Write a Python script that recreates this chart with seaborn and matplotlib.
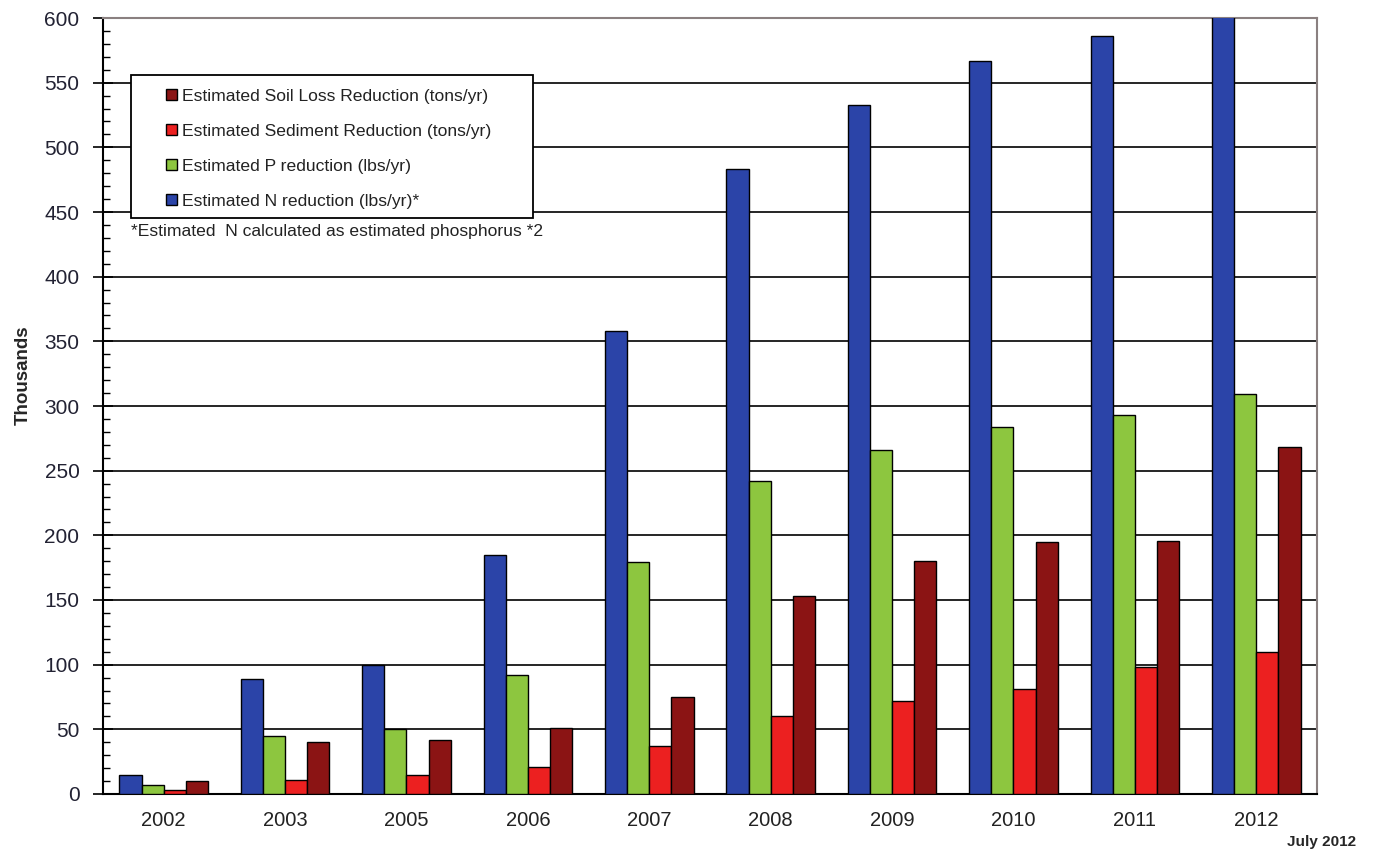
import pandas as pd
import numpy as np
import matplotlib
matplotlib.use('Agg')
import matplotlib.pyplot as plt
from matplotlib.patches import Patch, Rectangle
import seaborn as sns

# 연도별 추정 감소량 (천 단위)
years = ['2002', '2003', '2005', '2006', '2007', '2008', '2009', '2010', '2011', '2012']
n_reduction = [15, 89, 100, 185, 358, 483, 533, 567, 586, 618]
p_reduction = [7, 45, 50, 92, 179, 242, 266, 284, 293, 309]
sediment_reduction = [3, 11, 15, 21, 37, 60, 72, 81, 98, 110]
soil_loss_reduction = [10, 40, 42, 51, 75, 153, 180, 195, 196, 268]

series_names = ['Estimated N reduction (lbs/yr)*',
                'Estimated P reduction (lbs/yr)',
                'Estimated Sediment Reduction (tons/yr)',
                'Estimated Soil Loss Reduction (tons/yr)']
colors = ['#2B44A8', '#8DC63F', '#EC2020', '#8B1414']

df = pd.DataFrame({
    'year': years * 4,
    'series': np.repeat(series_names, len(years)),
    'value': n_reduction + p_reduction + sediment_reduction + soil_loss_reduction,
})

sns.set_style('white')
plt.rcParams['font.family'] = ['Liberation Sans', 'DejaVu Sans']

fig = plt.figure(figsize=(13.77, 8.59), dpi=100)
ax = fig.add_axes([0.0748, 0.0757, 0.8816, 0.9033])

sns.barplot(data=df, x='year', y='value', hue='series', hue_order=series_names,
            palette=colors, saturation=1, width=0.73, edgecolor='black', linewidth=1,
            legend=False, ax=ax, zorder=3)

ax.set_ylim(0, 600)
ax.set_xlim(-0.5, len(years) - 0.5)
ax.set_yticks(range(0, 601, 50))
ax.set_yticks(range(0, 601, 10), minor=True)
ax.yaxis.grid(True, color='black', linewidth=1.2, zorder=0)
ax.set_axisbelow(True)

ax.set_xticks(np.arange(len(years)) + 0.5, minor=True)
ax.tick_params(axis='x', which='major', length=0, labelsize=14.5, pad=12, colors='#222222')
ax.tick_params(axis='x', which='minor', length=7, width=1.2, direction='out', color='black')
ax.tick_params(axis='y', which='major', length=14, width=1.2, direction='inout', labelsize=15,
               left=True, colors='#222233', pad=10)
ax.tick_params(axis='y', which='minor', length=5, width=1, direction='in', left=True)
ax.tick_params(axis='y', which='both', color='black')

ax.set_xlabel('')
ax.set_ylabel('Thousands', fontsize=13.5, fontweight='bold')
ax.yaxis.set_label_coords(-0.059, 0.54)

for side in ['left', 'bottom']:
    ax.spines[side].set_color('black')
    ax.spines[side].set_linewidth(1.5)
for side in ['top', 'right']:
    ax.spines[side].set_color('#8a8080')
    ax.spines[side].set_linewidth(1.5)

# 범례 테두리
ax.add_patch(Rectangle((0.0231, 0.742), 0.331, 0.1845, transform=ax.transAxes,
                       facecolor='white', edgecolor='black', linewidth=1.3, zorder=4))

# 범례는 원본처럼 역순으로
handles = [Patch(facecolor=c, edgecolor='black', label=s) for c, s in zip(colors, series_names)]
leg = ax.legend(handles=handles[::-1], loc='upper left', bbox_to_anchor=(0.052, 0.909),
                fontsize=12.6, frameon=False,
                handlelength=0.6, handleheight=0.6, handletextpad=0.3,
                labelspacing=1.15, borderpad=0, borderaxespad=0)
leg.set_zorder(5)
for t in leg.get_texts():
    t.set_color('#222222')

ax.text(0.0231, 0.7255, '*Estimated  N calculated as estimated phosphorus *2',
        transform=ax.transAxes, fontsize=12.6, ha='left', va='center', color='#222222',
        bbox=dict(facecolor='white', edgecolor='none', pad=1), zorder=5)

fig.text(0.985, 0.012, 'July 2012', fontsize=11, fontweight='bold', ha='right', va='bottom')

fig.savefig('out.png', dpi=100)
